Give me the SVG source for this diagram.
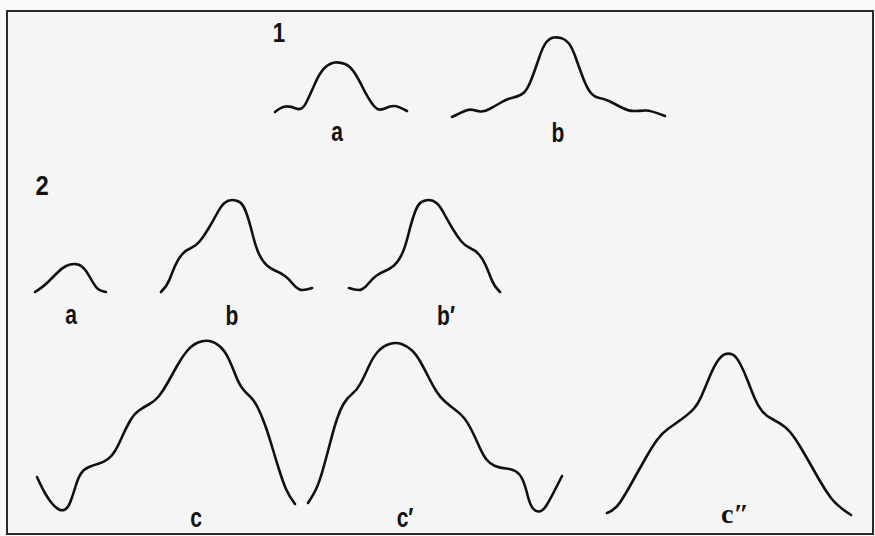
<svg xmlns="http://www.w3.org/2000/svg" width="875" height="536" viewBox="0 0 875 536">
<style>
.curve{fill:none;stroke:#111;stroke-width:2.6;stroke-linecap:round;stroke-linejoin:round}
.lbl{font-family:"Liberation Sans",Arial,sans-serif;font-weight:bold;fill:#111;text-anchor:middle;font-size:28px}
.ser{font-family:"Liberation Serif","Times New Roman",serif;font-weight:bold;font-size:28px;fill:#111;text-anchor:middle}
</style>
<rect x="0" y="0" width="875" height="536" fill="#fafafa"/>
<rect id="frame" x="7" y="11" width="866" height="523" fill="#f5f5f5" stroke="#2a2a2a" stroke-width="2"/>
<g id="connectors"></g>
<g id="fig1">
<text class="lbl" transform="translate(279,42) scale(0.8,1)">1</text>
</g>
<g id="fig1a">
<path class="curve" d="M275,112 Q281,107 285.5,106.5 Q290,106 296,108.5 Q302,111 306,103 Q310,95 315,83.5 Q320,72 325,67.5 Q330,63 335,62.5 Q340,62 345,64 Q350,66 354,72 Q358,78 363,88 Q368,98 372,103.5 Q376,109 379,109.5 Q382,110 386,108 Q390,106 394,106 Q398,106 407,111"/>
<text class="lbl" transform="translate(337,141) scale(0.75,1)">a</text>
</g>
<g id="fig1b">
<path class="curve" d="M452,117 Q462,112 466,110.5 Q470,109 473.5,110 Q477,111 480.5,111.5 Q484,112 489.5,109 Q495,106 501,102.5 Q507,99 513.5,97.5 Q520,96 523.5,93 Q527,90 530.5,81.5 Q534,73 538.5,59.5 Q543,46 546.5,42 Q550,38 553.5,37.5 Q557,37 561,38 Q565,39 568.5,43 Q572,47 576,58.5 Q580,70 583.5,79 Q587,88 590.5,92.5 Q594,97 599.5,98 Q605,99 610,101.5 Q615,104 621.5,107.5 Q628,111 634,111 Q640,111 645,110.5 Q650,110 665,116"/>
<text class="lbl" transform="translate(558,142) scale(0.75,1)">b</text>
</g>
<g id="fig2">
<text class="lbl" transform="translate(42,195) scale(0.85,1)">2</text>
</g>
<g id="fig2a">
<path class="curve" d="M35,292 Q43,287 47.5,282.5 Q52,278 57,273 Q62,268 66,266 Q70,264 74.5,264 Q79,264 82.5,267 Q86,270 89.5,276.5 Q93,283 96,287 Q99,291 106,292"/>
<text class="lbl" transform="translate(71,324) scale(0.75,1)">a</text>
</g>
<g id="fig2b">
<path class="curve" d="M161,292 Q167,286 169.5,279.5 Q172,273 175,266 Q178,259 182,254.5 Q186,250 191,248 Q196,246 200,241 Q204,236 208.5,228.5 Q213,221 217,213.5 Q221,206 224.5,203 Q228,200 232,200 Q236,200 239.5,202 Q243,204 246,212 Q249,220 252.5,234 Q256,248 259.5,255 Q263,262 267,265.5 Q271,269 276,271 Q281,273 285,276 Q289,279 292.5,283.5 Q296,288 299.5,289.5 Q303,291 312,288"/>
<text class="lbl" transform="translate(232,325) scale(0.75,1)">b</text>
</g>
<g id="fig2b-prime">
<path class="curve" transform="translate(661,0) scale(-1,1)" d="M161,292 Q167,286 169.5,279.5 Q172,273 175,266 Q178,259 182,254.5 Q186,250 191,248 Q196,246 200,241 Q204,236 208.5,228.5 Q213,221 217,213.5 Q221,206 224.5,203 Q228,200 232,200 Q236,200 239.5,202 Q243,204 246,212 Q249,220 252.5,234 Q256,248 259.5,255 Q263,262 267,265.5 Q271,269 276,271 Q281,273 285,276 Q289,279 292.5,283.5 Q296,288 299.5,289.5 Q303,291 312,288"/>
<text class="lbl" transform="translate(446,325) scale(0.75,1)">b′</text>
</g>
<g id="fig2c">
<path class="curve" d="M37,477 Q42,488 45.5,494 Q49,500 52.5,504 Q56,508 59,509.5 Q62,511 65,509.5 Q68,508 70.5,501.5 Q73,495 75.5,486.5 Q78,478 81,473.5 Q84,469 89,467 Q94,465 99,463.5 Q104,462 108,459 Q112,456 115,451 Q118,446 122,437 Q126,428 130,421 Q134,414 139,410.5 Q144,407 149.5,404 Q155,401 159,396 Q163,391 167.5,383 Q172,375 177,366 Q182,357 187,351 Q192,345 198,342.5 Q204,340 209.5,341 Q215,342 220,346.5 Q225,351 228.5,358.5 Q232,366 235.5,375 Q239,384 242.5,388.5 Q246,393 250,396.5 Q254,400 257.5,407 Q261,414 264.5,423.5 Q268,433 272,446.5 Q276,460 279.5,471 Q283,482 286,489 Q289,496 295,504"/>
<text class="lbl" transform="translate(196,527) scale(0.75,1)">c</text>
</g>
<g id="fig2c-prime">
<path class="curve" d="M308,503 Q314,494 317,487 Q320,480 323.5,467.5 Q327,455 330.5,441.5 Q334,428 337,419 Q340,410 343.5,404 Q347,398 352,394 Q357,390 360.5,383.5 Q364,377 368.5,367 Q373,357 378,351.5 Q383,346 389.5,344 Q396,342 401.5,344 Q407,346 411.5,350 Q416,354 420.5,362 Q425,370 429,378 Q433,386 436.5,391.5 Q440,397 445,401.5 Q450,406 455.5,410 Q461,414 464.5,418.5 Q468,423 471.5,430 Q475,437 479,446 Q483,455 486.5,459.5 Q490,464 495,466 Q500,468 506,468.5 Q512,469 516,471.5 Q520,474 522.5,479.5 Q525,485 527.5,495 Q530,505 533,508.5 Q536,512 539.5,511.5 Q543,511 547,504.5 Q551,498 562,476"/>
<text class="lbl" transform="translate(405,527) scale(0.75,1)">c′</text>
</g>
<g id="fig2c-double-prime">
<path class="curve" d="M607,513 Q615,510 620,502.5 Q625,495 632.5,481.5 Q640,468 646,457.5 Q652,447 657,440 Q662,433 668.5,428.5 Q675,424 682.5,418.5 Q690,413 694,408.5 Q698,404 701.5,396 Q705,388 709.5,377 Q714,366 718,360.5 Q722,355 725.5,354 Q729,353 732.5,354.5 Q736,356 740,363.5 Q744,371 748,381.5 Q752,392 755,399 Q758,406 762,411 Q766,416 773,419.5 Q780,423 785,427 Q790,431 795,438.5 Q800,446 806,456.5 Q812,467 818.5,478.5 Q825,490 831,498 Q837,506 851,515"/>
<text class="ser" x="735" y="523">c″</text>
</g>
</svg>
